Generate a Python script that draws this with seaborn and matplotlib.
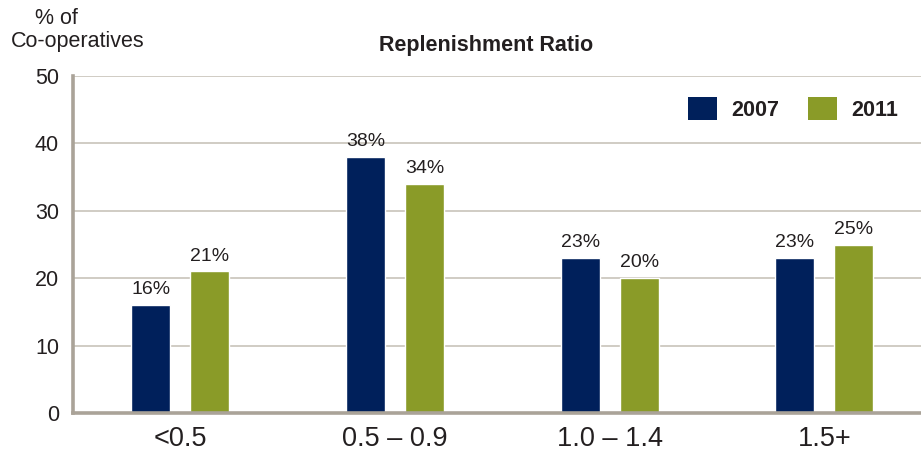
import matplotlib
matplotlib.use("Agg")
import matplotlib.pyplot as plt
from matplotlib.patches import Patch
import seaborn as sns
import pandas as pd

categories = ["<0.5", "0.5 – 0.9", "1.0 – 1.4", "1.5+"]
years = ["2007", "2011"]
values_2007 = [16, 38, 23, 23]
values_2011 = [21, 34, 20, 25]
y_ticks = [0, 10, 20, 30, 40, 50]

colors = {"2007": "#00205b", "2011": "#8a9b28"}
spine_color = "#aaa398"
grid_color = "#c4beb4"
text_color = "#231f20"

df = pd.DataFrame({
    "category": categories * 2,
    "year": ["2007"] * len(categories) + ["2011"] * len(categories),
    "share": values_2007 + values_2011,
})

sns.set_theme(style="white")
plt.rcParams["font.family"] = ["Liberation Sans", "DejaVu Sans"]

fig = plt.figure(figsize=(9.21, 4.51), dpi=100)
ax = fig.add_axes([73 / 921, 38 / 451, 1 - 73 / 921, 337 / 451])

sns.barplot(data=df, x="category", y="share", hue="year", order=categories,
            hue_order=years, palette=colors, width=0.55, gap=0.34,
            saturation=1, ax=ax, legend=False, zorder=3)

for cont in ax.containers:
    ax.bar_label(cont, fmt="%d%%", padding=5, fontsize=14, color=text_color,
                 zorder=4)

ax.set_ylim(0, 50)
ax.set_xlim(-0.5, 3.45)
ax.set_yticks(y_ticks)
ax.set_yticklabels([str(t) for t in y_ticks], fontsize=15.5, color=text_color)
ax.tick_params(axis="y", length=0, pad=10)
ax.tick_params(axis="x", length=0, pad=9, labelsize=19.5, labelcolor=text_color)
ax.set_xlabel("")
ax.set_ylabel("")

# light horizontal gridlines at every tick
ax.grid(axis="y", color=grid_color, linewidth=1.1)
ax.set_axisbelow(True)

for side in ["top", "right"]:
    ax.spines[side].set_visible(False)
for side in ["left", "bottom"]:
    ax.spines[side].set_color(spine_color)
    ax.spines[side].set_linewidth(2.6)
    ax.spines[side].set_zorder(5)

# legend: coloured squares with bold year labels
handles = [Patch(facecolor=colors[y], edgecolor="none") for y in years]
leg = ax.legend(handles, years, loc="upper right", bbox_to_anchor=(0.996, 0.995),
                ncol=2, frameon=False, handlelength=1.35, handleheight=1.25,
                handletextpad=0.65, columnspacing=1.35,
                prop={"weight": "bold", "size": 15.5})
for t in leg.get_texts():
    t.set_color(text_color)

fig.text(486 / 921, 1 - 45 / 451, "Replenishment Ratio", ha="center", va="center",
         fontsize=15.5, fontweight="bold", color=text_color)
fig.text(56 / 921, 1 - 19 / 451, "% of", ha="center", va="center",
         fontsize=15.5, color=text_color)
fig.text(78 / 921, 1 - 42 / 451, "Co-operatives", ha="center", va="center",
         fontsize=15.5, color=text_color)

fig.savefig("out.png", dpi=100)
